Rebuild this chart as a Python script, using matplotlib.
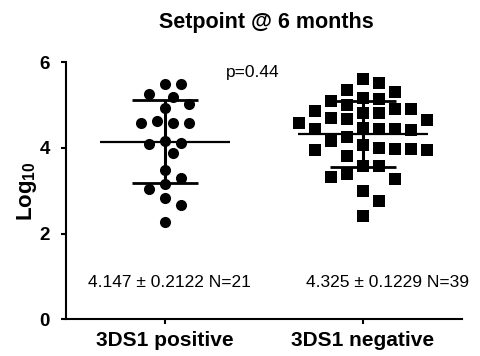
import numpy as np
import matplotlib
matplotlib.use("Agg")
import matplotlib.pyplot as plt

# Viral setpoint (log10 copies/ml) at 6 months, by 3DS1 carriage
groups = ["3DS1 positive", "3DS1 negative"]
positive = [5.48, 5.48, 5.25, 5.19, 5.02, 4.92, 4.57, 4.57, 4.57, 4.63,
            4.16, 4.08, 4.12, 3.87, 3.48, 3.30, 3.16, 3.03, 2.83, 2.67, 2.26]
negative = [5.61, 5.52, 5.35, 5.29, 5.16, 5.14, 5.08, 4.90, 4.85, 4.81,
            4.82, 4.90, 5.00, 4.59, 4.67, 4.65, 4.69, 4.44, 4.44, 4.42,
            4.44, 4.47, 4.26, 4.15, 3.99, 3.97, 3.94, 3.80, 3.95, 3.97,
            4.07, 3.58, 3.58, 3.27, 3.39, 3.32, 3.00, 2.75, 2.41]
means = [4.147, 4.325]
sems = [0.2122, 0.1229]
counts = [21, 39]
p_value = 0.44
yticks = [0, 2, 4, 6]

plt.rcParams["font.family"] = ["Liberation Sans", "DejaVu Sans"]
plt.rcParams["mathtext.fontset"] = "custom"
plt.rcParams["mathtext.rm"] = "Liberation Sans"
plt.rcParams["mathtext.bf"] = "Liberation Sans:bold"

fig = plt.figure(figsize=(4.81, 3.56), dpi=100)
ax = fig.add_axes([0.1372, 0.1028, 0.8233, 0.7230])
ax.set_xlim(0.5, 2.5)
ax.set_ylim(0, 6)


def swarm_offsets(values, gap_px, square, lane_px=8.0):
    """Place points from the top down on a lattice of horizontal lanes,
    taking the lane nearest the centre where the marker does not overlap
    the markers already placed (distances measured in display pixels)."""
    values = np.asarray(values, dtype=float)
    px_x = ax.transData.transform([(0, 0), (1, 0)])
    px_y = ax.transData.transform([(0, 0), (0, 1)])
    x_scale = px_x[1, 0] - px_x[0, 0]
    y_scale = px_y[1, 1] - px_y[0, 1]
    order = np.argsort(-values, kind="stable")
    placed = []  # (lane_px, y_px)
    offsets = np.zeros(len(values))
    for count, i in enumerate(order):
        y = values[i] * y_scale
        side = 1 if count % 2 else -1
        for k in range(0, 40):
            found = False
            for lane in ([0] if k == 0 else [side * k, -side * k]):
                lx = lane * lane_px
                ok = True
                for px, py in placed:
                    dx, dy = abs(px - lx), abs(py - y)
                    if square:
                        hit = dx < gap_px and dy < gap_px
                    else:
                        hit = dx * dx + dy * dy < gap_px * gap_px
                    if hit:
                        ok = False
                        break
                if ok:
                    placed.append((lx, y))
                    offsets[i] = lx / x_scale
                    found = True
                    break
            if found:
                break
    return offsets


markers = ["o", "s"]
sizes = [8.0, 8.6]
gaps = [13.0, 14.0]
for k, vals in enumerate([positive, negative]):
    x0 = k + 1
    xs = x0 + swarm_offsets(vals, gaps[k], square=(markers[k] == "s"))
    ax.plot(xs, vals, linestyle="none", marker=markers[k], ms=sizes[k],
            color="black", markeredgewidth=0, zorder=2)

    sd = sems[k] * np.sqrt(counts[k])
    m = means[k]
    ax.hlines(m, x0 - 0.33, x0 + 0.33, color="black", lw=1.6, zorder=3)
    ax.hlines([m - sd, m + sd], x0 - 0.165, x0 + 0.165, color="black",
              lw=2.0, zorder=3)
    ax.vlines(x0, m - sd, m + sd, color="black", lw=2.2, zorder=3)

ax.text(1.02, 0.87, f"{means[0]} \u00b1 {sems[0]} N={counts[0]}",
        ha="center", va="center", fontsize=12.5)
ax.text(2.126, 0.87, f"{means[1]} \u00b1 {sems[1]} N={counts[1]}",
        ha="center", va="center", fontsize=12.5)
ax.text(1.444, 5.75, f"p={p_value}", ha="center", va="center", fontsize=12.5)

ax.set_xticks([1, 2])
ax.set_xticklabels(groups, fontsize=15, fontweight="bold")
ax.set_yticks(yticks)
ax.set_yticklabels([str(t) for t in yticks], fontsize=13.5, fontweight="bold")
ax.tick_params(axis="y", length=3.6, width=1.5, pad=8)
ax.tick_params(axis="x", length=3.6, width=1.5, pad=5)

for side in ("top", "right"):
    ax.spines[side].set_visible(False)
for side in ("left", "bottom"):
    ax.spines[side].set_linewidth(1.5)

ax.set_ylabel(r"$\mathbf{Log_{10}}$", fontsize=16)
ax.yaxis.set_label_coords(-0.068, 0.50)

fig.text(0.553, 1 - 28.3 / 356, "Setpoint @ 6 months", ha="center",
         va="baseline", fontsize=15.5, fontweight="bold")

fig.savefig("out.png", dpi=100)
